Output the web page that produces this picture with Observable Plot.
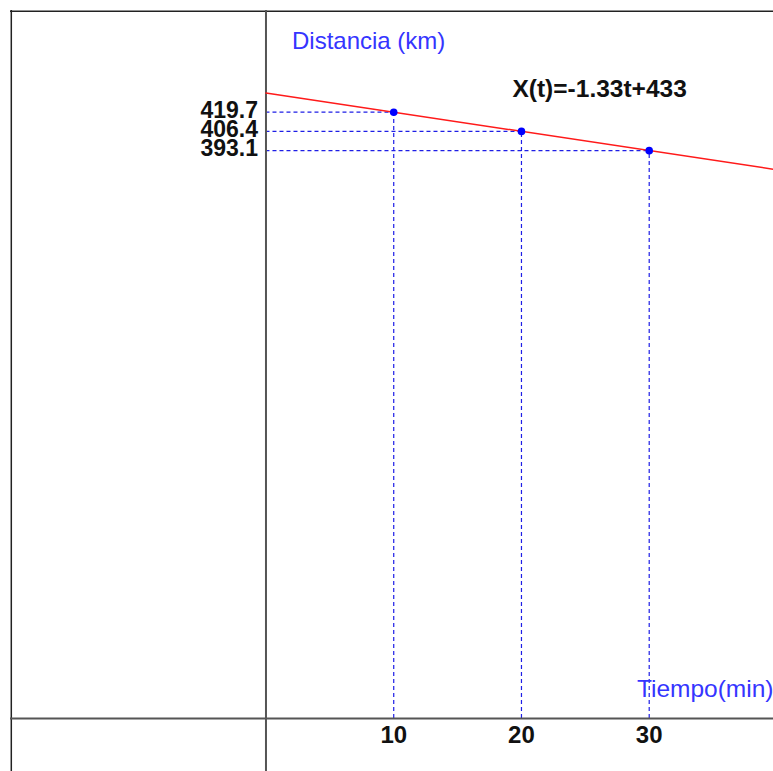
<!DOCTYPE html>
<html>
<head>
<meta charset="utf-8">
<script src="https://cdn.jsdelivr.net/npm/d3@7"></script>
<script src="https://cdn.jsdelivr.net/npm/@observablehq/plot@0.6"></script>
<style>
  html, body { margin: 0; padding: 0; background: #fff; }
  #chart svg { display: block; }
</style>
</head>
<body>
<div id="chart"></div>
<script>
// Data
const tValues = [10, 20, 30];            // Tiempo (min)
const dValues = [419.7, 406.4, 393.1];   // Distancia (km)
const lineT = [0, 39.73];                // red line X(t) = -1.33t + 433, end points
const lineD = [433, 380.2];
const tickLabelsX = ["10", "20", "30"];
const tickLabelsY = ["419.7", "406.4", "393.1"];
const labelY = "Distancia (km)";
const labelX = "Tiempo(min)";
const equation = "X(t)=-1.33t+433";
const tDomain = [-20, 39.73];
const dDomain = [0, 490.1];

const points = tValues.map((t, i) => ({t, d: dValues[i], lx: tickLabelsX[i], ly: tickLabelsY[i]}));
const line = lineT.map((t, i) => ({t, d: lineD[i]}));

const font = "'Liberation Sans', Arial, sans-serif";
const blueText = "#3535ff";
const dash = "#1e1ee6";

const chart = Plot.plot({
  width: 773,
  height: 771,
  marginLeft: 10,
  marginTop: 10,
  marginRight: 0,
  marginBottom: 53,
  style: {background: "#fff", fontFamily: font, overflow: "visible"},
  x: {domain: tDomain, axis: null},
  y: {domain: dDomain, axis: null},
  marks: [
    // frame edges (left and top)
    Plot.ruleX([tDomain[0]], {stroke: "#222", strokeWidth: 1.5, insetBottom: -53, dx: 0.8}),
    Plot.ruleY([dDomain[1]], {stroke: "#222", strokeWidth: 1.5, dy: 0.8}),
    // dashed guides
    Plot.ruleX(points, {x: "t", y1: 0, y2: "d", stroke: dash, strokeWidth: 1.2, strokeDasharray: "4,3"}),
    Plot.ruleY(points, {y: "d", x1: 0, x2: "t", stroke: dash, strokeWidth: 1.2, strokeDasharray: "4,3"}),
    // axes
    Plot.ruleX([0], {stroke: "#555", strokeWidth: 2, insetBottom: -53}),
    Plot.ruleY([0], {stroke: "#555", strokeWidth: 2}),
    // line
    Plot.line(line, {x: "t", y: "d", stroke: "#ff1a1a", strokeWidth: 1.5}),
    Plot.dot(points, {x: "t", y: "d", r: 3.8, fill: "#0000ff", stroke: "none"}),
    // tick labels
    Plot.text(points, {x: "t", text: "lx", frameAnchor: "bottom", lineAnchor: "middle", dy: 17,
      fontSize: 24, fontWeight: "bold", fill: "#111"}),
    Plot.text(points, {y: "d", x: 0, text: "ly", textAnchor: "end", lineAnchor: "middle", dx: -8, dy: -2,
      fontSize: 23, fontWeight: "bold", fill: "#111"}),
    // axis titles
    Plot.text([labelY], {x: 0, text: d => d, frameAnchor: "top", textAnchor: "start", lineAnchor: "middle",
      dx: 26, dy: 31, fontSize: 24, fill: blueText}),
    Plot.text([labelX], {text: d => d, frameAnchor: "bottom-right", textAnchor: "end", lineAnchor: "middle",
      dx: 0, dy: -29, fontSize: 24.5, fill: blueText}),
    // equation
    Plot.text([equation], {x: tValues[1], text: d => d, frameAnchor: "top", textAnchor: "start", lineAnchor: "middle",
      dx: -9, dy: 79, fontSize: 24.5, fontWeight: "bold", fill: "#111"})
  ]
});
document.getElementById("chart").appendChild(chart);
</script>
</body>
</html>
